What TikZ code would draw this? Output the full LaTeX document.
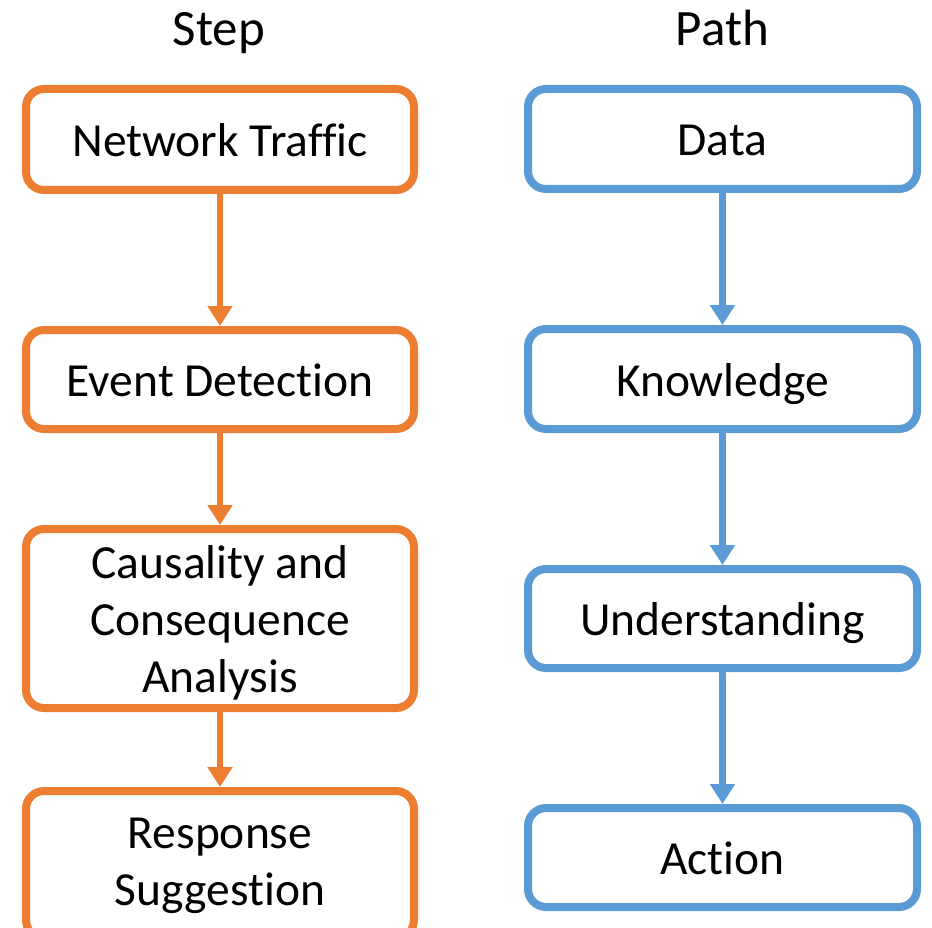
\documentclass[tikz,border=0pt]{standalone}
\usepackage{fontspec}
\setmainfont{Carlito}[Ligatures=NoCommon]
\usetikzlibrary{arrows.meta}
\definecolor{steporange}{HTML}{ED7D31}
\definecolor{pathblue}{HTML}{5B9BD5}
\tikzset{
  flowbox/.style={draw, line width=8pt, rounded corners=18pt, fill=white,
    inner sep=0pt, align=center,
    font=\fontsize{47.5}{57}\selectfont},
  oneline/.style={text height=34pt, text depth=0pt},
  stepbox/.style={flowbox, draw=steporange, minimum width=388pt},
  pathbox/.style={flowbox, draw=pathblue, minimum width=389pt},
  heading/.style={anchor=base, inner sep=0pt, font=\fontsize{51}{60}\selectfont},
  steparrow/.style={draw=steporange, line width=6.5pt,
    -{Triangle[width=24pt,length=20pt]}},
  patharrow/.style={draw=pathblue, line width=6.5pt,
    -{Triangle[width=24pt,length=20pt]}}
}
% multi-line label, lowered by #1 while keeping its natural size
\newcommand{\lowerlines}[2]{\raisebox{-#1}[\height][\depth]{\begin{tabular}{@{}c@{}}#2\end{tabular}}}
\begin{document}
\begin{tikzpicture}[x=1pt,y=-1pt]
\path[use as bounding box] (0,0) rectangle (932,928);
\clip (0,0) rectangle (932,928);

% column headings
\node[heading] (hstep) at (219,46) {Step};
\node[heading] (hpath) at (722.5,46) {Path};

% left column: processing steps
\node[stepbox, oneline, minimum height=101pt] (traffic) at (220,139.5) {Network Traffic};
\node[stepbox, oneline, minimum height=99pt]  (detect)  at (220,379.5) {Event Detection};
\node[stepbox, minimum height=179pt] (causal)  at (220,618.5) {\lowerlines{6pt}{Causality and\\Consequence\\Analysis}};
\node[stepbox, minimum height=147pt] (respond) at (220,864.5) {\lowerlines{1.5pt}{Response\\Suggestion}};

% right column: data-to-action path
\node[pathbox, oneline, minimum height=100pt] (data)  at (722.5,139) {Data};
\node[pathbox, oneline, minimum height=100pt] (know)  at (722.5,379) {Knowledge};
\node[pathbox, oneline, minimum height=99pt]  (under) at (722.5,618.5) {Understanding};
\node[pathbox, oneline, minimum height=99pt]  (act)   at (722.5,857.5) {Action};

% connectors
\draw[steparrow] (traffic.south) -- (detect.north);
\draw[steparrow] (detect.south)  -- (causal.north);
\draw[steparrow] (causal.south)  -- (respond.north);
\draw[patharrow] (data.south)  -- (know.north);
\draw[patharrow] (know.south)  -- (under.north);
\draw[patharrow] (under.south) -- (act.north);
\end{tikzpicture}
\end{document}
